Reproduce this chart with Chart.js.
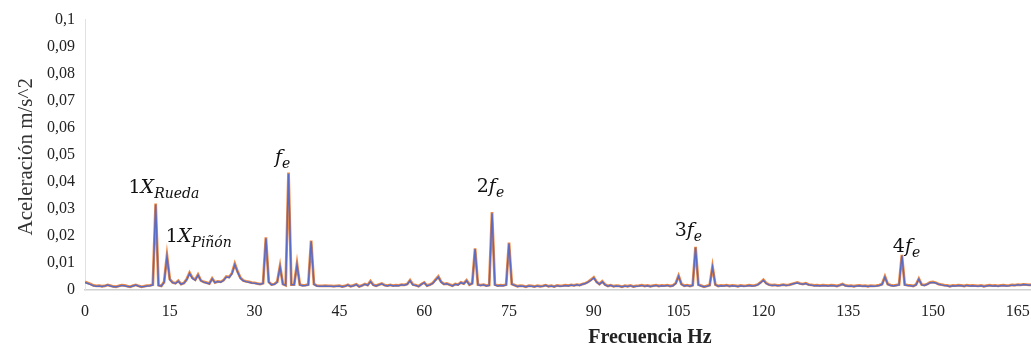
<!DOCTYPE html>
<html lang="es">
<head>
<meta charset="utf-8">
<title>Espectro de aceleración</title>
<script src="https://cdn.jsdelivr.net/npm/chart.js@4.4.1/dist/chart.umd.min.js"></script>
<style>
  html, body { margin: 0; padding: 0; background: #fff; overflow: hidden; }
  /* wider than the window: the source picture is cropped just after 165 Hz */
  #wrap { position: relative; width: 1050px; height: 352px; }
</style>
</head>
<body>
<div id="wrap"><canvas id="chart"></canvas></div>
<script>
// Frequency resolution of the spectrum (Hz between samples), samples start at 0 Hz
const FREQ_STEP = 0.5;

// Orange trace, one row = 5 Hz
const orangeValues = [
  0.0030,0.0026,0.0022,0.0017,0.0015,0.0016,0.0014,0.0015,0.0019,0.0016,
  0.0013,0.0012,0.0015,0.0018,0.0017,0.0014,0.0012,0.0016,0.0019,0.0015,
  0.0012,0.0014,0.0016,0.0017,0.0020,0.0320,0.0018,0.0015,0.0030,0.0127,
  0.0040,0.0028,0.0025,0.0034,0.0022,0.0026,0.0040,0.0064,0.0045,0.0038,
  0.0057,0.0035,0.0030,0.0027,0.0024,0.0043,0.0028,0.0032,0.0030,0.0036,
  0.0050,0.0048,0.0062,0.0097,0.0068,0.0045,0.0035,0.0032,0.0030,0.0027,
  0.0026,0.0024,0.0022,0.0025,0.0195,0.0030,0.0020,0.0022,0.0030,0.0089,
  0.0022,0.0018,0.0434,0.0020,0.0020,0.0097,0.0020,0.0017,0.0018,0.0020,
  0.0183,0.0022,0.0016,0.0015,0.0015,0.0016,0.0015,0.0015,0.0014,0.0015,
  0.0016,0.0013,0.0015,0.0019,0.0014,0.0017,0.0021,0.0013,0.0017,0.0022,
  0.0018,0.0033,0.0019,0.0016,0.0020,0.0024,0.0018,0.0016,0.0019,0.0016,
  0.0018,0.0017,0.0020,0.0019,0.0022,0.0036,0.0020,0.0018,0.0014,0.0022,
  0.0028,0.0016,0.0020,0.0025,0.0038,0.0050,0.0030,0.0022,0.0024,0.0020,
  0.0016,0.0022,0.0020,0.0028,0.0024,0.0036,0.0020,0.0025,0.0154,0.0020,
  0.0018,0.0020,0.0016,0.0018,0.0288,0.0020,0.0016,0.0018,0.0017,0.0020,
  0.0175,0.0022,0.0018,0.0014,0.0016,0.0015,0.0012,0.0016,0.0015,0.0013,
  0.0016,0.0014,0.0015,0.0018,0.0014,0.0016,0.0013,0.0017,0.0015,0.0016,
  0.0018,0.0016,0.0019,0.0017,0.0020,0.0018,0.0022,0.0025,0.0030,0.0038,
  0.0047,0.0030,0.0022,0.0032,0.0020,0.0015,0.0018,0.0014,0.0016,0.0015,
  0.0012,0.0016,0.0014,0.0017,0.0013,0.0015,0.0016,0.0018,0.0015,0.0017,
  0.0014,0.0016,0.0018,0.0015,0.0017,0.0016,0.0018,0.0015,0.0017,0.0025,
  0.0053,0.0022,0.0016,0.0018,0.0015,0.0018,0.0160,0.0020,0.0016,0.0012,
  0.0015,0.0018,0.0087,0.0020,0.0015,0.0017,0.0016,0.0018,0.0015,0.0017,
  0.0016,0.0014,0.0017,0.0015,0.0016,0.0018,0.0016,0.0017,0.0020,0.0028,
  0.0038,0.0025,0.0020,0.0018,0.0019,0.0017,0.0018,0.0020,0.0018,0.0019,
  0.0022,0.0025,0.0028,0.0024,0.0022,0.0025,0.0020,0.0019,0.0017,0.0018,
  0.0016,0.0018,0.0017,0.0016,0.0018,0.0017,0.0015,0.0018,0.0022,0.0017,
  0.0015,0.0016,0.0014,0.0016,0.0017,0.0015,0.0016,0.0014,0.0016,0.0015,
  0.0016,0.0018,0.0022,0.0050,0.0022,0.0018,0.0016,0.0018,0.0020,0.0130,
  0.0020,0.0018,0.0017,0.0015,0.0020,0.0042,0.0020,0.0018,0.0022,0.0028,
  0.0030,0.0027,0.0022,0.0020,0.0018,0.0017,0.0014,0.0017,0.0016,0.0018,
  0.0017,0.0015,0.0018,0.0016,0.0017,0.0016,0.0015,0.0017,0.0014,0.0016,
  0.0018,0.0016,0.0017,0.0015,0.0017,0.0018,0.0016,0.0017,0.0019,0.0018,
  0.0020,0.0019,0.0021,0.0020,0.0019,0.0020,0.0019
];

// Blue trace, one row = 5 Hz
const blueValues = [
  0.0028,0.0024,0.0020,0.0016,0.0014,0.0015,0.0013,0.0015,0.0018,0.0015,
  0.0012,0.0012,0.0014,0.0017,0.0016,0.0013,0.0012,0.0015,0.0018,0.0014,
  0.0012,0.0013,0.0015,0.0016,0.0019,0.0316,0.0017,0.0014,0.0029,0.0124,
  0.0038,0.0027,0.0024,0.0032,0.0021,0.0025,0.0038,0.0061,0.0043,0.0036,
  0.0055,0.0034,0.0029,0.0026,0.0023,0.0041,0.0027,0.0031,0.0029,0.0035,
  0.0048,0.0046,0.0060,0.0094,0.0066,0.0043,0.0034,0.0031,0.0029,0.0026,
  0.0025,0.0023,0.0021,0.0024,0.0191,0.0029,0.0019,0.0021,0.0029,0.0086,
  0.0021,0.0017,0.0430,0.0019,0.0019,0.0094,0.0019,0.0016,0.0017,0.0019,
  0.0180,0.0021,0.0015,0.0014,0.0014,0.0015,0.0014,0.0014,0.0013,0.0014,
  0.0015,0.0012,0.0014,0.0018,0.0013,0.0016,0.0020,0.0012,0.0016,0.0021,
  0.0017,0.0031,0.0018,0.0015,0.0019,0.0023,0.0017,0.0015,0.0018,0.0015,
  0.0017,0.0016,0.0019,0.0018,0.0021,0.0034,0.0019,0.0017,0.0013,0.0021,
  0.0027,0.0015,0.0019,0.0024,0.0036,0.0048,0.0029,0.0021,0.0023,0.0019,
  0.0015,0.0021,0.0019,0.0027,0.0023,0.0034,0.0019,0.0024,0.0151,0.0019,
  0.0017,0.0019,0.0015,0.0017,0.0284,0.0019,0.0015,0.0017,0.0016,0.0019,
  0.0172,0.0021,0.0017,0.0013,0.0015,0.0014,0.0012,0.0015,0.0014,0.0012,
  0.0015,0.0013,0.0014,0.0017,0.0013,0.0015,0.0012,0.0016,0.0014,0.0015,
  0.0017,0.0015,0.0018,0.0016,0.0019,0.0017,0.0021,0.0024,0.0029,0.0036,
  0.0045,0.0029,0.0021,0.0030,0.0019,0.0014,0.0017,0.0013,0.0015,0.0014,
  0.0012,0.0015,0.0013,0.0016,0.0012,0.0014,0.0015,0.0017,0.0014,0.0016,
  0.0013,0.0015,0.0017,0.0014,0.0016,0.0015,0.0017,0.0014,0.0016,0.0024,
  0.0051,0.0021,0.0015,0.0017,0.0014,0.0017,0.0157,0.0019,0.0015,0.0012,
  0.0014,0.0017,0.0085,0.0019,0.0014,0.0016,0.0015,0.0017,0.0014,0.0016,
  0.0015,0.0013,0.0016,0.0014,0.0015,0.0017,0.0015,0.0016,0.0019,0.0027,
  0.0036,0.0024,0.0019,0.0017,0.0018,0.0016,0.0017,0.0019,0.0017,0.0018,
  0.0021,0.0024,0.0026,0.0023,0.0021,0.0024,0.0019,0.0018,0.0016,0.0017,
  0.0015,0.0017,0.0016,0.0015,0.0017,0.0016,0.0014,0.0017,0.0021,0.0016,
  0.0014,0.0015,0.0013,0.0015,0.0016,0.0014,0.0015,0.0013,0.0015,0.0014,
  0.0015,0.0017,0.0021,0.0048,0.0021,0.0017,0.0015,0.0017,0.0019,0.0127,
  0.0019,0.0017,0.0016,0.0014,0.0019,0.0040,0.0019,0.0017,0.0021,0.0027,
  0.0028,0.0026,0.0021,0.0019,0.0017,0.0016,0.0013,0.0016,0.0015,0.0017,
  0.0016,0.0014,0.0017,0.0015,0.0016,0.0015,0.0014,0.0016,0.0013,0.0015,
  0.0017,0.0015,0.0016,0.0014,0.0016,0.0017,0.0015,0.0016,0.0018,0.0017,
  0.0019,0.0018,0.0020,0.0019,0.0018,0.0019,0.0018
];

// Axis ranges / ticks
const X_MIN = 0, X_MAX = 170.7, X_STEP = 15;
const Y_MIN = 0, Y_MAX = 0.1, Y_STEP = 0.01;

const X_TITLE = 'Frecuencia Hz';
const Y_TITLE = 'Aceleración m/s^2';

// Peak labels: [x Hz, y value, main text, italic symbol, subscript]
const peakLabelX = [7.7, 14.3, 33.6, 69.3, 104.3, 142.9];
const peakLabelY = [0.0360, 0.0179, 0.0470, 0.0363, 0.0198, 0.0140];
const peakLabelMain = ['1', '1', '', '2', '3', '4'];
const peakLabelSym = ['X', 'X', 'f', 'f', 'f', 'f'];
const peakLabelSub = ['Rueda', 'Piñón', 'e', 'e', 'e', 'e'];

const toPoints = vals => vals.map((v, i) => ({ x: i * FREQ_STEP, y: v }));

const fmtComma = v => {
  const s = Number(v.toFixed(2)).toString();
  return s.replace('.', ',');
};

// Draws the math-style peak labels and the axis titles
const textPlugin = {
  id: 'peakText',
  afterDraw(chart) {
    const { ctx, scales: { x, y } } = chart;
    ctx.save();
    ctx.fillStyle = '#111';
    ctx.textBaseline = 'alphabetic';
    ctx.textAlign = 'left';
    for (let i = 0; i < peakLabelX.length; i++) {
      let px = x.getPixelForValue(peakLabelX[i]);
      const py = y.getPixelForValue(peakLabelY[i]);
      ctx.font = '19px "DejaVu Serif"';
      ctx.fillText(peakLabelMain[i], px, py);
      px += ctx.measureText(peakLabelMain[i]).width;
      ctx.font = 'italic 19px "DejaVu Serif"';
      ctx.fillText(peakLabelSym[i], px, py);
      px += ctx.measureText(peakLabelSym[i]).width;
      ctx.font = 'italic 14px "DejaVu Serif"';
      ctx.fillText(peakLabelSub[i], px, py + 5);
    }

    // x title, bold, sits under the 90-105 ticks as in the source
    ctx.fillStyle = '#222';
    ctx.font = 'bold 20px "Liberation Serif"';
    ctx.textAlign = 'center';
    ctx.fillText(X_TITLE, 650, 343);

    // y title, rotated
    ctx.fillStyle = '#333';
    ctx.font = '21px "Liberation Serif"';
    ctx.translate(32, (y.top + y.bottom) / 2 + 2);
    ctx.rotate(-Math.PI / 2);
    ctx.fillText(Y_TITLE, 0, 0);
    ctx.restore();
  }
};

new Chart(document.getElementById('chart'), {
  type: 'line',
  data: {
    datasets: [
      {
        label: 'Serie 1',
        data: toPoints(blueValues),
        borderColor: '#5B6CC4',
        borderWidth: 1.5,
        pointRadius: 0,
        tension: 0,
        order: 1
      },
      {
        label: 'Serie 2',
        data: toPoints(orangeValues),
        borderColor: '#ED8A45',
        borderWidth: 2.8,
        pointRadius: 0,
        tension: 0,
        order: 2
      }
    ]
  },
  options: {
    responsive: true,
    maintainAspectRatio: false,
    animation: false,
    layout: { padding: { top: 17, right: 0, bottom: 0, left: 0 } },
    plugins: {
      legend: { display: false },
      tooltip: { enabled: false }
    },
    scales: {
      x: {
        type: 'linear',
        min: X_MIN,
        max: X_MAX,
        afterFit: s => { s.height = 62; },
        grid: { display: false, drawTicks: false },
        border: { display: true, color: '#d0d0d0', width: 1.5 },
        ticks: {
          stepSize: X_STEP,
          includeBounds: false,
          padding: 12,
          color: '#222',
          font: { family: 'Liberation Serif', size: 16 },
          maxRotation: 0
        }
      },
      y: {
        min: Y_MIN,
        max: Y_MAX,
        afterFit: s => { s.width = 85; },
        grid: { display: false, drawTicks: false },
        border: { display: true, color: '#e2e2e2', width: 1 },
        ticks: {
          stepSize: Y_STEP,
          padding: 10,
          color: '#222',
          font: { family: 'Liberation Serif', size: 16 },
          callback: v => fmtComma(v)
        }
      }
    }
  },
  plugins: [textPlugin]
});
</script>
</body>
</html>
